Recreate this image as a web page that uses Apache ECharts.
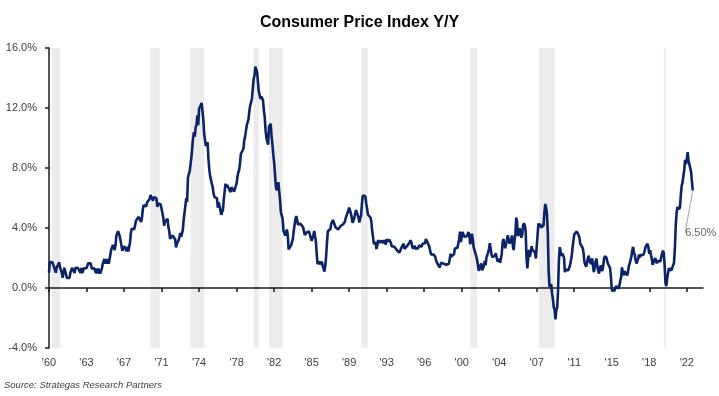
<!DOCTYPE html>
<html>
<head>
<meta charset="utf-8">
<script src="https://cdn.jsdelivr.net/npm/echarts@6/dist/echarts.min.js"></script>
<style>
  html, body { margin: 0; padding: 0; background: #fff; }
  #main { width: 719px; height: 396px; }
</style>
</head>
<body>
<div id="main"></div>
<script>
// CPI Y/Y, monthly (Jan of each decade onward)
const cpi1960s = [
  1.03, 1.73, 1.73, 1.72, 1.72, 1.72, 1.37, 1.37, 1.02, 1.36, 1.36, 1.36,
  1.71, 1.36, 1.36, 1.02, 0.68, 0.68, 1.35, 1.35, 1.35, 0.67, 0.67, 0.67,
  0.67, 1.01, 1.01, 1.34, 1.34, 1.34, 1.00, 1.34, 1.33, 1.33, 1.33, 1.33,
  1.33, 1.00, 1.33, 0.99, 0.99, 1.32, 1.32, 1.32, 1.32, 1.32, 1.65, 1.64,
  1.64, 1.64, 1.31, 1.31, 1.31, 1.31, 1.30, 1.00, 1.30, 0.97, 1.29, 1.29,
  0.97, 0.97, 1.29, 1.62, 1.62, 1.94, 1.61, 1.94, 1.61, 1.93, 1.61, 1.92,
  1.92, 2.56, 2.56, 2.87, 2.87, 2.53, 2.85, 3.48, 3.48, 3.79, 3.79, 3.46,
  3.46, 2.81, 2.48, 2.48, 2.79, 2.78, 2.77, 2.45, 2.75, 2.43, 2.74, 3.04,
  3.65, 3.95, 3.94, 3.93, 3.92, 4.20, 4.49, 4.48, 4.46, 4.74, 4.73, 4.72,
  4.40, 4.68, 5.25, 5.52, 5.51, 5.48, 5.44, 5.71, 5.70, 5.68, 5.93, 6.20
];
const cpi1970s = [
  6.18, 6.15, 5.82, 6.06, 6.04, 6.01, 5.98, 5.41, 5.63, 5.60, 5.57, 5.57,
  5.29, 5.00, 4.71, 4.16, 4.40, 4.38, 4.37, 4.62, 4.08, 3.80, 3.28, 3.27,
  3.27, 3.51, 3.50, 3.49, 3.23, 2.71, 2.95, 2.94, 3.19, 3.42, 3.67, 3.41,
  3.65, 3.87, 4.59, 5.06, 5.53, 5.99, 5.73, 7.38, 7.36, 7.80, 8.25, 8.71,
  9.39, 10.02, 10.39, 10.09, 10.71, 10.86, 11.51, 10.86, 11.95, 12.06, 12.20, 12.34,
  11.80, 11.23, 10.25, 10.21, 9.47, 9.39, 9.72, 8.60, 7.91, 7.44, 7.38, 6.94,
  6.72, 6.29, 6.07, 6.05, 6.20, 5.97, 5.35, 5.71, 5.49, 5.46, 4.88, 4.86,
  5.22, 5.91, 6.44, 6.95, 6.73, 6.87, 6.83, 6.62, 6.60, 6.39, 6.72, 6.70,
  6.84, 6.43, 6.55, 6.50, 6.97, 7.41, 7.70, 7.86, 8.31, 8.93, 8.89, 9.02,
  9.28, 9.86, 10.09, 10.49, 10.85, 10.89, 11.26, 11.82, 12.18, 12.07, 12.61, 13.29
];
const cpi1980s = [
  13.91, 14.18, 14.76, 14.73, 14.41, 14.38, 13.13, 12.87, 12.60, 12.77, 12.65, 12.52,
  11.83, 11.41, 10.49, 10.00, 9.78, 9.55, 10.76, 10.80, 10.95, 10.14, 9.59, 8.92,
  8.39, 7.62, 6.78, 6.51, 6.68, 7.06, 6.44, 5.85, 5.04, 5.14, 4.59, 3.83,
  3.71, 3.49, 3.60, 3.90, 3.55, 2.58, 2.46, 2.56, 2.86, 2.85, 3.27, 3.79,
  4.19, 4.60, 4.80, 4.56, 4.23, 4.22, 4.20, 4.29, 4.27, 4.26, 4.05, 3.95,
  3.53, 3.52, 3.70, 3.69, 3.77, 3.76, 3.55, 3.35, 3.14, 3.23, 3.51, 3.80,
  3.89, 3.11, 2.26, 1.59, 1.49, 1.77, 1.58, 1.57, 1.75, 1.47, 1.28, 1.10,
  1.46, 2.10, 3.03, 3.78, 3.86, 3.65, 3.93, 4.28, 4.36, 4.53, 4.53, 4.43,
  4.05, 3.94, 3.93, 3.90, 3.89, 3.96, 4.13, 4.02, 4.17, 4.25, 4.25, 4.42,
  4.67, 4.83, 4.98, 5.11, 5.36, 5.17, 4.98, 4.71, 4.34, 4.46, 4.66, 4.65
];
const cpi1990s = [
  5.20, 5.26, 5.23, 4.71, 4.36, 4.67, 4.82, 5.62, 6.16, 6.29, 6.27, 6.11,
  5.65, 5.31, 4.90, 4.89, 4.95, 4.70, 4.45, 3.80, 3.39, 2.92, 2.99, 3.06,
  2.60, 2.82, 3.19, 3.18, 3.02, 3.09, 3.16, 3.15, 2.99, 3.20, 3.05, 2.90,
  3.26, 3.25, 3.09, 3.23, 3.22, 3.00, 2.78, 2.77, 2.69, 2.75, 2.68, 2.75,
  2.52, 2.52, 2.51, 2.36, 2.29, 2.49, 2.77, 2.90, 2.96, 2.61, 2.67, 2.67,
  2.80, 2.86, 2.85, 3.05, 3.19, 3.04, 2.76, 2.62, 2.54, 2.81, 2.61, 2.54,
  2.73, 2.65, 2.84, 2.90, 2.89, 2.75, 2.95, 2.88, 3.00, 2.99, 3.26, 3.32,
  3.04, 3.03, 2.76, 2.50, 2.23, 2.30, 2.23, 2.23, 2.15, 2.08, 1.83, 1.70,
  1.57, 1.44, 1.37, 1.44, 1.69, 1.68, 1.68, 1.62, 1.49, 1.49, 1.55, 1.61,
  1.67, 1.61, 1.73, 2.28, 2.09, 1.96, 2.14, 2.26, 2.63, 2.56, 2.62, 2.68
];
const cpi2000s = [
  2.74, 3.22, 3.76, 3.07, 3.19, 3.73, 3.66, 3.41, 3.45, 3.45, 3.45, 3.39,
  3.73, 3.53, 2.92, 3.27, 3.62, 3.25, 2.72, 2.72, 2.65, 2.13, 1.90, 1.55,
  1.14, 1.14, 1.48, 1.64, 1.18, 1.07, 1.46, 1.80, 1.51, 2.03, 2.20, 2.38,
  2.60, 2.98, 3.02, 2.22, 2.06, 2.11, 2.11, 2.16, 2.32, 2.04, 1.77, 1.88,
  1.93, 1.69, 1.74, 2.29, 3.05, 3.27, 2.99, 2.65, 2.54, 3.19, 3.52, 3.26,
  2.97, 3.01, 3.15, 3.51, 2.80, 2.53, 3.17, 3.64, 4.69, 4.35, 3.46, 3.42,
  3.99, 3.60, 3.36, 3.55, 4.17, 4.32, 4.15, 3.82, 2.06, 1.31, 1.97, 2.54,
  2.08, 2.42, 2.78, 2.57, 2.69, 2.69, 2.36, 1.97, 2.76, 3.54, 4.31, 4.08,
  4.28, 4.03, 3.98, 3.94, 4.18, 5.02, 5.60, 5.37, 4.94, 3.66, 1.07, 0.09,
  0.03, 0.24, -0.38, -0.74, -1.28, -1.43, -2.10, -1.48, -1.29, -0.18, 1.84, 2.72
];
const cpi2010s = [
  2.63, 2.14, 2.31, 2.24, 2.02, 1.05, 1.24, 1.15, 1.14, 1.17, 1.14, 1.50,
  1.63, 2.11, 2.68, 3.16, 3.57, 3.56, 3.63, 3.77, 3.87, 3.53, 3.39, 2.96,
  2.93, 2.87, 2.65, 2.30, 1.70, 1.66, 1.41, 1.69, 1.99, 2.16, 1.76, 1.74,
  1.59, 1.98, 1.47, 1.06, 1.36, 1.75, 1.96, 1.52, 1.18, 0.96, 1.24, 1.50,
  1.58, 1.13, 1.51, 1.95, 2.13, 2.07, 1.99, 1.70, 1.66, 1.66, 1.32, 0.76,
  -0.09, -0.03, -0.07, -0.20, -0.04, 0.12, 0.17, 0.20, -0.04, 0.17, 0.50, 0.73,
  1.37, 1.02, 0.85, 1.13, 1.02, 1.01, 0.84, 1.06, 1.46, 1.64, 1.69, 2.07,
  2.50, 2.74, 2.38, 2.20, 1.87, 1.63, 1.73, 1.94, 2.23, 2.04, 2.20, 2.11,
  2.07, 2.21, 2.36, 2.46, 2.80, 2.87, 2.95, 2.70, 2.28, 2.52, 2.18, 1.91,
  1.55, 1.52, 1.86, 2.00, 1.79, 1.65, 1.81, 1.75, 1.71, 1.76, 2.05, 2.29
];
const cpi2020s = [
  2.49, 2.33, 1.54, 0.33, 0.12, 0.65, 0.99, 1.31, 1.37, 1.18, 1.17, 1.36,
  1.40, 1.68, 2.62, 4.16, 4.99, 5.39, 5.37, 5.25, 5.39, 6.22, 6.81, 7.04,
  7.48, 7.87, 8.54, 8.26, 8.58, 9.06, 8.52, 8.26, 8.20, 7.75, 7.11, 6.50
];

// recession bands [start, end]
const recessions = [
  ['1960-04', '1961-02'], ['1969-12', '1970-11'], ['1973-11', '1975-03'],
  ['1980-01', '1980-07'], ['1981-07', '1982-11'], ['1990-07', '1991-03'],
  ['2001-03', '2001-11'], ['2007-12', '2009-06'], ['2020-02', '2020-04']
];
const yTicks = { min: -4, max: 16, step: 4 };
const lastLabel = '6.50%';

const cpi = [].concat(cpi1960s, cpi1970s, cpi1980s, cpi1990s, cpi2000s, cpi2010s, cpi2020s);

// month categories, one empty year on the end like the original axis
let months = [];
for (let y = 1960; y <= 2023; y++) {
  for (let m = 1; m <= 12; m++) {
    months.push(y + '-' + (m < 10 ? '0' + m : m));
  }
}
const lastMonth = months[cpi.length - 1];

const font = "'Liberation Sans', Arial, sans-serif";

let myChart = echarts.init(document.getElementById('main'));
let option = {
  animation: false,
  title: {
    text: 'Consumer Price Index Y/Y',
    left: 'center',
    top: 10,
    textStyle: { fontFamily: font, fontSize: 16, fontWeight: 'bold', color: '#000' }
  },
  graphic: [{
    type: 'text',
    left: 4,
    top: 380,
    style: {
      text: 'Source: Strategas Research Partners',
      font: "italic 9.5px 'Liberation Sans', Arial, sans-serif",
      fill: '#404040'
    }
  }],
  grid: { left: 49, right: 16, top: 48, bottom: 48 },
  xAxis: [
    {
      type: 'category',
      data: months,
      boundaryGap: false,
      z: 1,
      axisLine: { onZero: true, lineStyle: { color: '#1a1a1a', width: 1.5 } },
      axisTick: { show: true, interval: 43, length: 4, lineStyle: { color: '#1a1a1a', width: 1.5 } },
      axisLabel: { show: false },
      splitLine: { show: false }
    },
    {
      type: 'category',
      data: months,
      boundaryGap: false,
      position: 'bottom',
      axisLine: { show: false, onZero: false },
      axisTick: { show: false },
      axisLabel: {
        interval: 43,
        margin: 9,
        fontFamily: font,
        fontSize: 11,
        color: '#404040',
        formatter: function (v) { return "'" + v.slice(2, 4); }
      },
      splitLine: { show: false }
    }
  ],
  yAxis: {
    type: 'value',
    min: yTicks.min,
    max: yTicks.max,
    interval: yTicks.step,
    axisLine: { show: true, lineStyle: { color: '#1a1a1a', width: 1.5 } },
    axisTick: { show: true, length: 4, lineStyle: { color: '#1a1a1a', width: 1.5 } },
    axisLabel: {
      margin: 12,
      fontFamily: font,
      fontSize: 11,
      color: '#404040',
      formatter: function (v) { return v.toFixed(1) + '%'; }
    },
    splitLine: { show: false }
  },
  series: [
    {
      name: 'recessions',
      type: 'line',
      z: 0,
      data: [],
      silent: true,
      markArea: {
        silent: true,
        itemStyle: { color: '#ececec' },
        data: recessions.map(function (r) { return [{ xAxis: r[0] }, { xAxis: r[1] }]; })
      }
    },
    {
      name: 'CPI Y/Y',
      type: 'line',
      z: 2,
      data: cpi,
      showSymbol: false,
      symbol: 'none',
      lineStyle: { color: '#0b2468', width: 2.6 }
    },
    {
      name: 'last',
      type: 'scatter',
      z: 3,
      symbolSize: 0,
      data: [[lastMonth, cpi[cpi.length - 1]]],
      label: {
        show: true,
        position: 'inside',
        formatter: lastLabel,
        fontFamily: font,
        fontSize: 11,
        color: '#404040'
      },
      labelLayout: { dx: 8, dy: 42 },
      labelLine: { show: true, lineStyle: { color: '#a6a6a6', width: 1 } }
    }
  ]
};
myChart.setOption(option);
</script>
</body>
</html>
